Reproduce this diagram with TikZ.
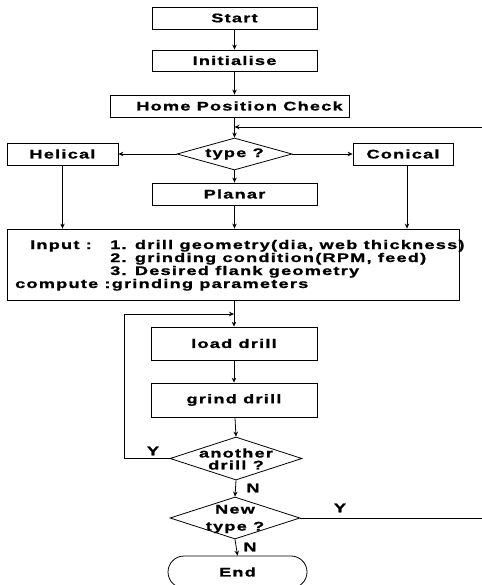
\documentclass[tikz,border=0pt]{standalone}
\usepackage{fontspec}
\setmainfont{Liberation Sans}[FakeStretch=1.45,LetterSpace=10,FakeBold=1.2]
\usetikzlibrary{arrows.meta,shapes.geometric}
\newcommand\myfont{\fontsize{12.5pt}{12pt}\selectfont\bfseries}
\tikzset{
 box/.style={draw, line width=0.8pt, rectangle, inner sep=0pt, font=\myfont},
 dia/.style={draw, diamond, inner sep=0pt, line width=0.8pt},
 txt/.style={inner sep=0pt, font=\myfont},
 arr/.style={line width=0.8pt, -{Stealth[length=5pt,width=4.5pt]}},
}
\begin{document}
\begin{tikzpicture}[x=1pt,y=-1pt]
\useasboundingbox[fill=white] (0,0) rectangle (481,585);
\node[box, minimum width=165, minimum height=22] (start) at (234.5,18) {Start};
\node[box, minimum width=165, minimum height=21] (init) at (234.5,60.5) {Initialise};
\node[box, minimum width=239, minimum height=22] (hpc) at (229.5,106) {\hspace*{20pt}Home Position Check};
\coordinate (j1) at (234.5,127);
\node[dia, minimum width=115, minimum height=32] (type) at (234.5,154) {};
\node[txt] (typet) at (type) {type ?};
\node[box, minimum width=111, minimum height=22] (hel) at (62.5,154) {Helical};
\node[box, minimum width=100, minimum height=22] (con) at (403,154) {Conical};
\node[box, minimum width=165, minimum height=22] (plan) at (234.5,194) {Planar};
\node[box, minimum width=452, minimum height=71] (inp) at (233,264.5) {};
\node[txt, anchor=base west] (in1) at (30,249) {Input :};
\node[txt, anchor=base west] (in2) at (110,249) {1. drill geometry(dia, web thickness)};
\node[txt, anchor=base west] (in3) at (110,262) {2. grinding condition(RPM, feed)};
\node[txt, anchor=base west] (in4) at (110,275) {3. Desired flank geometry};
\node[txt, anchor=base west] (in5) at (15,288) {compute :grinding parameters};
\coordinate (j2) at (234,314);
\node[box, minimum width=166, minimum height=33] (load) at (234,343.5) {load drill};
\node[box, minimum width=166, minimum height=34] (grind) at (234,400) {grind drill};
\node[dia, minimum width=132, minimum height=43] (another) at (236,458.5) {};
\node[txt, align=center] (anothert) at (236,459) {another\\drill ?};
\node[dia, minimum width=130, minimum height=42] (newt) at (235,518) {};
\node[txt, align=center] (newtt) at (235,519) {New\\[5pt]type ?};
\node[box, rounded corners=16pt, minimum width=139, minimum height=32] (end) at (237.5,572) {End};
\node[txt] (y1) at (153,451) {Y};
\node[txt] (n1) at (253,488) {N};
\node[txt] (y2) at (340,508) {Y};
\node[txt] (n2) at (250,547) {N};
% connectors
\draw[arr] (start) -- (init);
\draw[arr] (init.south) -- (init.south |- hpc.north);
\draw[arr] (hpc.south -| j1) -- (type.north);
\draw[arr] (type.west) -- (hel.east);
\draw[arr] (type.east) -- (con.west);
\draw[arr] (type.south) -- (plan.north);
\draw[arr] (hel.south) -- (hel.south |- inp.north);
\draw[arr] (plan.south) -- (plan.south |- inp.north);
\draw[arr] ([xshift=4pt]con.south) -- ([xshift=4pt]con.south |- inp.north);
\draw[arr] (inp.south -| load.north) -- (load.north);
\draw[arr] (load) -- (grind);
\draw[arr] (grind) -- (another.north);
\draw[arr] (another.west) -- ++(-45,0) |- (j2);
\draw[arr] (another.south) -- (newt.north);
\draw[arr] (newt.south) -- (end.north);
\draw[arr] (newt.east) -- (484,518) -- (484,127) -- (j1);
\end{tikzpicture}
\end{document}
